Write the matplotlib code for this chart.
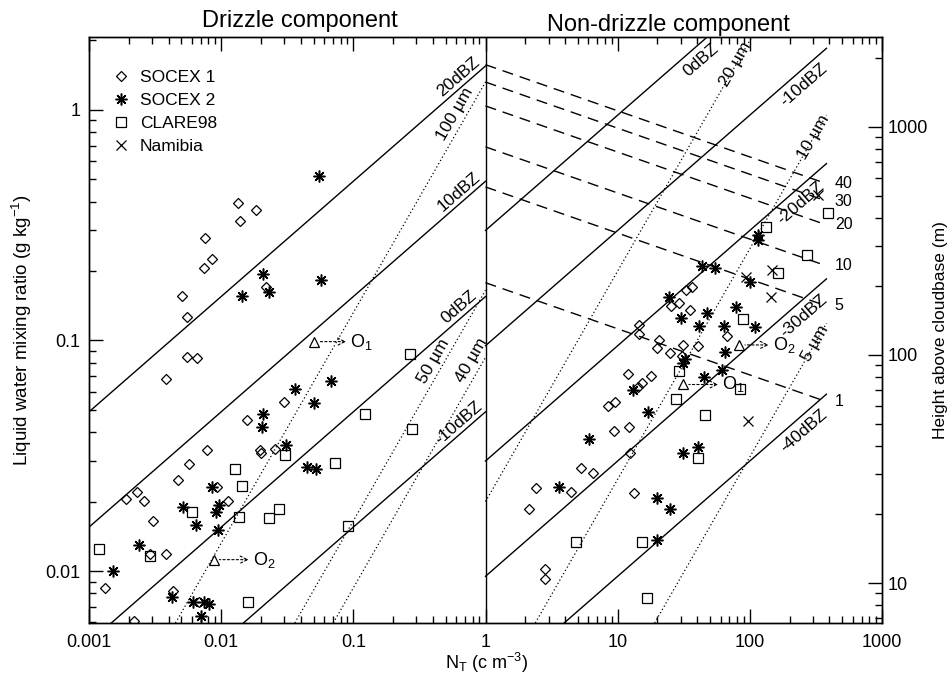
import numpy as np
import matplotlib.pyplot as plt
from matplotlib.lines import Line2D
from matplotlib.ticker import FuncFormatter, LogLocator, NullFormatter, FixedLocator
from matplotlib.transforms import offset_copy

plt.rcParams['font.family'] = ['Liberation Sans', 'DejaVu Sans']
plt.rcParams['mathtext.fontset'] = 'custom'
plt.rcParams['mathtext.rm'] = 'Liberation Sans'
plt.rcParams['mathtext.it'] = 'Liberation Sans:italic'
plt.rcParams['mathtext.bf'] = 'Liberation Sans:bold'

# ---- observations: drizzle component (left half) ----
socex1_drz_n = [0.0133, 0.0184, 0.0138, 0.00753, 0.00851, 0.00736, 0.00502, 0.00553,
                0.0217, 0.00547, 0.00659, 0.00382, 0.0298, 0.0156, 0.00783, 0.0197,
                0.0256, 0.0200, 0.00571, 0.00468, 0.00922, 0.00189, 0.00232, 0.00261,
                0.0113, 0.00303, 0.00290, 0.00382, 0.00132, 0.00430, 0.00683, 0.00220]
socex1_drz_lwc = [0.396, 0.368, 0.330, 0.278, 0.226, 0.207, 0.156, 0.126,
                  0.171, 0.0851, 0.0842, 0.0683, 0.0543, 0.0452, 0.0335, 0.0335,
                  0.0337, 0.0326, 0.0291, 0.0247, 0.0232, 0.0205, 0.0221, 0.0201,
                  0.0201, 0.0165, 0.0119, 0.0119, 0.00841, 0.00822, 0.00736, 0.00609]

socex2_drz_n = [0.0547, 0.0209, 0.0143, 0.0230, 0.0574, 0.0360, 0.0675, 0.0502,
                0.0207, 0.0204, 0.0312, 0.00851, 0.00516, 0.00961, 0.00912, 0.00640,
                0.00949, 0.00240, 0.00151, 0.00424, 0.00608, 0.00745, 0.00804, 0.00703,
                0.0443, 0.0520]
socex2_drz_lwc = [0.519, 0.194, 0.156, 0.162, 0.182, 0.0614, 0.0668, 0.0537,
                  0.0478, 0.0423, 0.0352, 0.0231, 0.0190, 0.0193, 0.0181, 0.0158,
                  0.0150, 0.0130, 0.0100, 0.00769, 0.00736, 0.00736, 0.00719, 0.00638,
                  0.0283, 0.0276]

clare_drz_n = [0.267, 0.122, 0.278, 0.0305, 0.0128, 0.0723, 0.0145, 0.00604,
               0.0136, 0.0231, 0.0274, 0.00120, 0.00290, 0.0912, 0.0160]
clare_drz_lwc = [0.0874, 0.0478, 0.0412, 0.0319, 0.0278, 0.0293, 0.0234, 0.0180,
                 0.0171, 0.0170, 0.0186, 0.0125, 0.0116, 0.0156, 0.00736]

# ---- observations: non-drizzle component (right half) ----
socex1_cld_n = [33.0, 36.7, 25.5, 29.0, 35.3, 14.6, 14.6, 20.5, 20.0, 25.1, 31.0, 40.6,
                66.8, 30.5, 11.9, 17.9, 15.2, 14.2, 8.41, 9.51, 9.35, 12.1, 5.24, 6.56,
                2.42, 4.46, 2.15, 13.2, 2.80, 2.80, 12.5]
socex1_cld_lwc = [0.166, 0.171, 0.141, 0.145, 0.135, 0.117, 0.107, 0.1005, 0.0925, 0.0880,
                  0.0956, 0.0947, 0.105, 0.0860, 0.0716, 0.0702, 0.0652, 0.0630, 0.0520,
                  0.0543, 0.0405, 0.0423, 0.0279, 0.0265, 0.0228, 0.0221, 0.0185, 0.0217,
                  0.0102, 0.0092, 0.0326]

socex2_cld_n = [43.2, 54.6, 115, 115, 101, 24.3, 29.9, 47.1, 41.5, 63.8, 79.1, 109,
                64.6, 32.4, 31.4, 61.8, 44.7, 13.0, 17.1, 6.12, 40.6, 31.4, 3.59, 19.8,
                24.7, 19.8]
socex2_cld_lwc = [0.211, 0.206, 0.287, 0.273, 0.180, 0.155, 0.125, 0.131, 0.115, 0.116,
                  0.139, 0.114, 0.0894, 0.0831, 0.0796, 0.0745, 0.0691, 0.0610, 0.0487,
                  0.0373, 0.0345, 0.0326, 0.0231, 0.0207, 0.0186, 0.0136]

clare_cld_n = [133, 387, 270, 162, 88.3, 29.3, 27.7, 46.1, 84.0, 40.3, 4.80, 15.2, 16.7]
clare_cld_lwc = [0.311, 0.357, 0.235, 0.196, 0.124, 0.0740, 0.0556, 0.0474, 0.0618,
                 0.0310, 0.0133, 0.0133, 0.00766]

namibia_n = [330, 148, 145, 96.2, 93.6]
namibia_lwc = [0.428, 0.202, 0.154, 0.0449, 0.188]

# cases marked with a triangle and an arrow
case_n = [0.0505, 0.00881, 83.4, 31.4]
case_lwc = [0.0988, 0.0112, 0.0956, 0.0644]
case_names = ['O$_1$', 'O$_2$', 'O$_2$', 'O$_1$']
case_offset = [26, 28, 24, 28]

# ---- reference lines ----
DBZ_DRZ = [20, 10, 0, -10]
DBZ_CLD = [0, -10, -20, -30, -40]
DIAM_DRZ = [100, 50, 40]
DIAM_CLD = [20, 10, 5]
C_DRZ, C_CLD = 0.155, 0.30
K_DRZ, K_CLD = 1.32e-6, 2.5e-6
N_END = 380
DASH_LABELS = ['40', '30', '20', '10', '5', '1']
DASH_LWC_N1 = [1.57, 1.32, 1.04, 0.691, 0.463, 0.178]
DASH_SLOPE = -0.2

X_TICKS = [0.001, 0.01, 0.1, 1, 10, 100, 1000]
Y_TICKS = [0.01, 0.1, 1]
H_TICKS = [10, 100, 1000]


def dbz_line(n, dbz, c):
    return c * np.sqrt(10 ** (dbz / 10) * n)


def diam_line(n, d, k):
    return k * n * d ** 3


fig = plt.figure(figsize=(9.52, 6.74), dpi=100)
ax = fig.add_axes([89 / 952, 51 / 674, 793 / 952, 586 / 674])
ax.set_xscale('log')
ax.set_yscale('log')
ax.set_xlim(1e-3, 1e3)
ax.set_ylim(0.00595, 2.07)

n_drz = np.logspace(-3, 0, 100)
n_cld = np.logspace(0, np.log10(N_END), 100)

for z in DBZ_DRZ:
    ax.plot(n_drz, dbz_line(n_drz, z, C_DRZ), color='black', lw=1.0)
for z in DBZ_CLD:
    ax.plot(n_cld, dbz_line(n_cld, z, C_CLD), color='black', lw=1.0)
for d in DIAM_DRZ:
    ax.plot(n_drz, diam_line(n_drz, d, K_DRZ), color='black', lw=0.9, ls=(0, (1, 2)))
for d in DIAM_CLD:
    ax.plot(n_cld, diam_line(n_cld, d, K_CLD), color='black', lw=0.9, ls=(0, (1, 2)))
for lab, l1 in zip(DASH_LABELS, DASH_LWC_N1):
    ax.plot(n_cld, l1 * n_cld ** DASH_SLOPE, color='black', lw=1.0, ls=(0, (8, 5)))
    ax.annotate(lab, (N_END, l1 * N_END ** DASH_SLOPE), xytext=(6, 0),
                textcoords='offset points', ha='left', va='center', fontsize=11.5)

ax.axvline(1, color='black', lw=1.0)


def line_label(text, n, f, side, pad=2.0, size=12.5):
    p0 = ax.transData.transform((n, f(n)))
    p1 = ax.transData.transform((n * 1.05, f(n * 1.05)))
    ang = np.degrees(np.arctan2(p1[1] - p0[1], p1[0] - p0[0]))
    nx, ny = -np.sin(np.radians(ang)), np.cos(np.radians(ang))
    tr = offset_copy(ax.transData, fig=fig, x=nx * pad * side, y=ny * pad * side,
                     units='points')
    va = {1: 'bottom', -1: 'top', 0: 'center'}[side]
    ax.text(n, f(n), text, rotation=ang, rotation_mode='anchor', ha='center',
            va=va, transform=tr, fontsize=size)


for z in DBZ_DRZ:
    line_label(f'{z}dBZ', 0.70, lambda n, z=z: dbz_line(n, z, C_DRZ), 1, 1.5)
for z, nl in zip(DBZ_CLD, [36.7, 221, 209, 221, 221]):
    line_label(f'{z}dBZ', nl, lambda n, z=z: dbz_line(n, z, C_CLD), -1, 4)
for d, nl in zip(DIAM_DRZ, [0.69, 0.47, 0.92]):
    line_label(f'{d} µm', nl, lambda n, d=d: diam_line(n, d, K_DRZ), 1, 2)
for d, nl in zip(DIAM_CLD, [78.5, 306, 312]):
    line_label(f'{d} µm', nl, lambda n, d=d: diam_line(n, d, K_CLD), 0, 0)

# observations
ms_kw = dict(ls='none', color='black', clip_on=True)
ax.plot(socex1_drz_n + socex1_cld_n, socex1_drz_lwc + socex1_cld_lwc, marker='D',
        ms=5.5, mfc='none', mew=0.9, **ms_kw)
ax.plot(socex2_drz_n + socex2_cld_n, socex2_drz_lwc + socex2_cld_lwc, marker=(8, 2, 0),
        ms=8.5, mew=1.1, **ms_kw)
ax.plot(clare_drz_n + clare_cld_n, clare_drz_lwc + clare_cld_lwc, marker='s',
        ms=7, mfc='none', mew=0.9, **ms_kw)
ax.plot(namibia_n, namibia_lwc, marker='x', ms=7, mew=0.9, **ms_kw)
ax.plot(case_n, case_lwc, marker='^', ms=6.5, mfc='none', mew=0.9, **ms_kw)
for n, l, name, off in zip(case_n, case_lwc, case_names, case_offset):
    ax.annotate(name, (n, l), xytext=(off, 0), textcoords='offset points',
                ha='left', va='center', fontsize=13,
                arrowprops=dict(arrowstyle='<-', ls=(0, (2, 2)), lw=0.8,
                                shrinkA=1, shrinkB=4, color='black'))

handles = [
    Line2D([], [], marker='D', ms=5.5, mfc='none', mew=0.9, **ms_kw),
    Line2D([], [], marker=(8, 2, 0), ms=8.5, mew=1.1, **ms_kw),
    Line2D([], [], marker='s', ms=7, mfc='none', mew=0.9, **ms_kw),
    Line2D([], [], marker='x', ms=7, mew=0.9, **ms_kw),
]
ax.legend(handles, ['SOCEX 1', 'SOCEX 2', 'CLARE98', 'Namibia'], loc='upper left',
          bbox_to_anchor=(0.014, 0.965), frameon=False, fontsize=12.5,
          handlelength=1.0, handletextpad=0.6, labelspacing=0.45, borderpad=0.2)

fmt = FuncFormatter(lambda v, _: f'{v:g}')
ax.xaxis.set_major_locator(FixedLocator(X_TICKS))
ax.yaxis.set_major_locator(FixedLocator(Y_TICKS))
ax.xaxis.set_major_formatter(fmt)
ax.yaxis.set_major_formatter(fmt)
ax.xaxis.set_minor_formatter(NullFormatter())
ax.yaxis.set_minor_formatter(NullFormatter())
ax.yaxis.set_minor_locator(LogLocator(subs=np.arange(2, 10)))
ax.tick_params(which='both', direction='in', top=True, right=False, width=1)
ax.tick_params(which='major', length=10, labelsize=13)
ax.tick_params(which='minor', length=5)
ax.tick_params(axis='x', which='major', pad=8)
ax.tick_params(axis='y', which='major', pad=6)

ax2 = ax.twinx()
ax2.set_yscale('log')
ax2.set_ylim(6.68, 2480)
ax2.yaxis.set_major_locator(FixedLocator(H_TICKS))
ax2.yaxis.set_minor_locator(LogLocator(subs=np.arange(2, 10)))
ax2.yaxis.set_major_formatter(fmt)
ax2.yaxis.set_minor_formatter(NullFormatter())
ax2.tick_params(which='both', direction='in', width=1)
ax2.tick_params(which='major', length=10, labelsize=13, pad=4)
ax2.tick_params(which='minor', length=5)

for a in (ax, ax2):
    for s in a.spines.values():
        s.set_linewidth(1.0)

ax.set_xlabel('N$_\\mathrm{T}$ (c m$^{-3}$)', fontsize=13)
ax.xaxis.set_label_coords(0.502, -0.048)
ax.set_ylabel('Liquid water mixing ratio (g kg$^{-1}$)', fontsize=13.5)
ax.yaxis.set_label_coords(-0.069, 0.5)
ax2.set_ylabel('Height above cloudbase (m)', fontsize=12.5)
ax2.yaxis.set_label_coords(1.064, 0.5)

fig.text(300 / 952, 1 - 27 / 674, 'Drizzle component', ha='center', va='baseline',
         fontsize=17)
fig.text(668 / 952, 1 - 31 / 674, 'Non-drizzle component', ha='center', va='baseline',
         fontsize=17)

fig.savefig('out.png', dpi=100)
